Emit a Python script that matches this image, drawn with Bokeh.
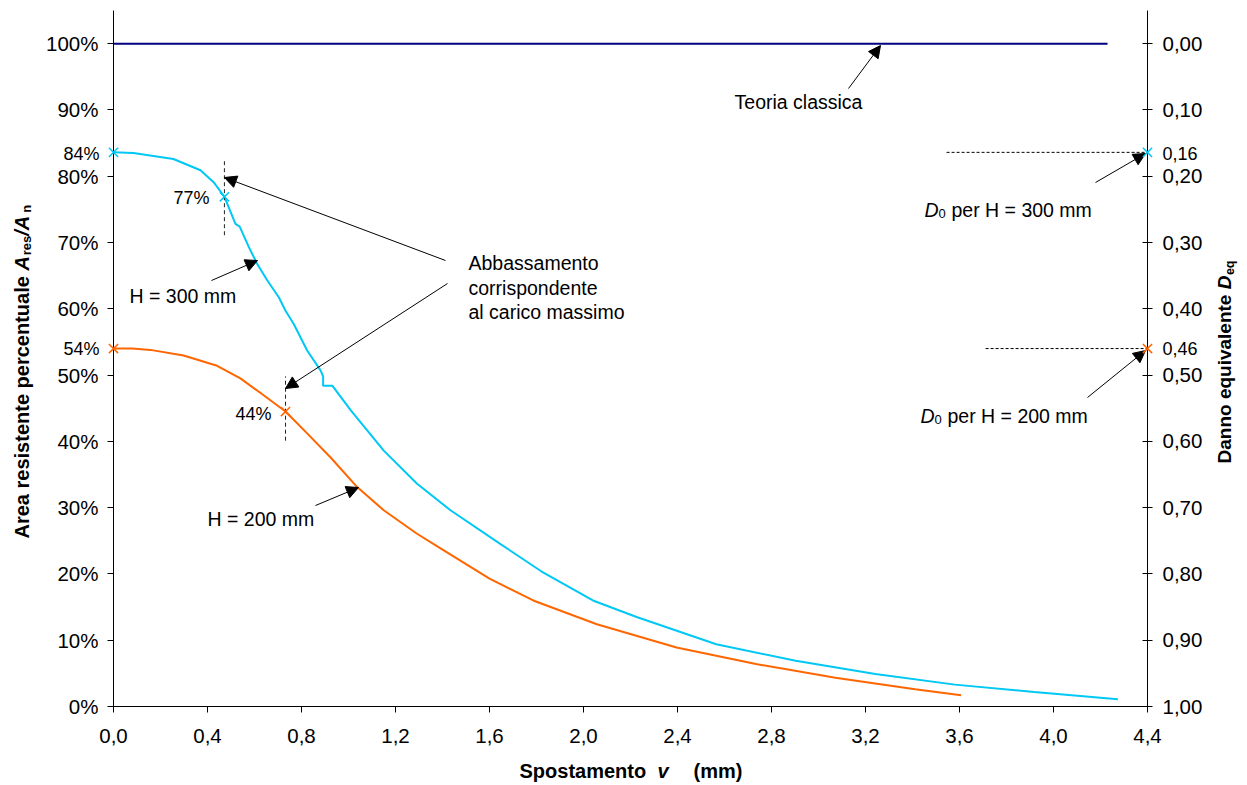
import math
from bokeh.plotting import figure
from bokeh.layouts import column
from bokeh.models import (Range1d, LinearAxis, FixedTicker, CustomJSTickFormatter,
                          Label, Arrow, NormalHead)
from bokeh.embed import file_html
from bokeh.resources import INLINE

# ---------------- data ----------------
# H = 300 mm: spostamento v [mm] / area resistente [%]
v_h300 = [0.0, 0.085, 0.255, 0.37, 0.426, 0.472, 0.519, 0.537, 0.576, 0.611, 0.654, 0.704,
          0.732, 0.767, 0.824, 0.881, 0.892, 0.892, 0.931, 1.009, 1.150, 1.292, 1.434,
          1.647, 1.820, 2.040, 2.226, 2.565, 2.903, 3.242, 3.580, 3.918, 4.274]
a_h300 = [83.6, 83.5, 82.6, 80.9, 79.1, 76.9, 72.8, 72.4, 69.3, 66.8, 64.3, 61.7,
          59.7, 57.7, 53.7, 50.7, 49.8, 48.4, 48.4, 44.7, 38.6, 33.6, 29.6,
          24.5, 20.4, 16.0, 13.5, 9.4, 6.9, 4.9, 3.3, 2.2, 1.1]
# H = 200 mm
v_h200 = [0.0, 0.08, 0.157, 0.298, 0.441, 0.54, 0.626, 0.732, 0.824, 0.923, 1.037, 1.150,
          1.290, 1.390, 1.600, 1.786, 2.057, 2.396, 2.734, 3.072, 3.411, 3.607]
a_h200 = [54.0, 54.0, 53.8, 52.95, 51.4, 49.5, 47.3, 44.5, 41.2, 37.6, 33.1, 29.6,
          26.1, 23.9, 19.3, 16.0, 12.4, 8.9, 6.4, 4.35, 2.6, 1.7]
# teoria classica
v_classic = [0.0, 4.23]
a_classic = [100.0, 100.0]
# abbassamento al carico massimo (H=300, H=200)
v_peak = [0.472, 0.732]
a_peak = [76.9, 44.5]
# danno iniziale D0 (H=300, H=200)
d0 = [0.164, 0.46]
d0_labels = ["0,16", "0,46"]
a0_labels = ["84%", "54%"]
peak_labels = ["77%", "44%"]
dash_start = [3.545, 3.711]

x_ticks = [0.0, 0.4, 0.8, 1.2, 1.6, 2.0, 2.4, 2.8, 3.2, 3.6, 4.0, 4.4]
y_ticks = [0, 10, 20, 30, 40, 50, 60, 70, 80, 90, 100]
d_ticks = [0.0, 0.1, 0.2, 0.3, 0.4, 0.5, 0.6, 0.7, 0.8, 0.9, 1.0]

CYAN = "#00C8F5"
ORANGE = "#FF6600"
NAVY = "#000080"
FONT = "Liberation Sans"
ASIZE = "19.5px"

# ---------------- geometry ----------------
W, H = 1239, 782
ML, MT = 113, 10
FR, FB = 1147, 706
MR, MB = W - FR, H - FB
FW, FH = FR - ML, FB - MT
X0, X1, Y0, Y1 = 0.0, 4.4, 0.0, 105.0

def px2x(px):
    return X0 + (px - ML) / FW * (X1 - X0)

def py2y(py):
    return Y0 + (FB - py) / FH * (Y1 - Y0)

# ---------------- main plot ----------------
p = figure(width=W, height=H, x_range=Range1d(X0, X1), y_range=Range1d(Y0, Y1),
           output_backend="svg", toolbar_location=None, title=None,
           min_border_left=ML, min_border_right=MR, min_border_top=MT, min_border_bottom=MB)
p.outline_line_color = None
p.xgrid.visible = False
p.ygrid.visible = False

def style_axis(ax):
    ax.axis_line_color = "black"
    ax.major_tick_line_color = "black"
    ax.minor_tick_line_color = None
    ax.major_label_text_font = FONT
    ax.major_label_text_font_size = "20.5px"
    ax.major_label_text_color = "black"

xa = p.xaxis[0]
style_axis(xa)
xa.ticker = FixedTicker(ticks=x_ticks)
xa.formatter = CustomJSTickFormatter(code="return tick.toFixed(1).replace('.', ',');")
xa.major_tick_in = 0
xa.major_tick_out = 6
xa.major_label_standoff = 16

ya = p.yaxis[0]
style_axis(ya)
ya.ticker = FixedTicker(ticks=y_ticks)
ya.formatter = CustomJSTickFormatter(code="return Math.round(tick) + '%';")
ya.major_tick_in = 0
ya.major_tick_out = 6
ya.major_label_standoff = 9

p.extra_y_ranges = {"D": Range1d(start=1.0, end=1.0 - Y1 / 100.0)}
ra = LinearAxis(y_range_name="D", ticker=FixedTicker(ticks=d_ticks),
                formatter=CustomJSTickFormatter(code="return tick.toFixed(2).replace('.', ',');"))
style_axis(ra)
ra.major_tick_in = 5
ra.major_tick_out = 5
ra.major_label_standoff = 10
p.add_layout(ra, "right")

p.line(v_classic, a_classic, color=NAVY, line_width=2)
p.line(v_h300, a_h300, color=CYAN, line_width=2)
p.line(v_h200, a_h200, color=ORANGE, line_width=2)

for vp, ap, lo, hi in zip(v_peak, a_peak, [5.8, 4.4], [5.8, 5.3]):
    p.line([vp, vp], [ap - lo, ap + hi], color="#222222", line_width=1, line_dash="4 3")

a0 = [100.0 * (1.0 - d) for d in d0]
for xs, a in zip(dash_start, a0):
    p.line([xs, X1], [a, a], color="black", line_width=1, line_dash="3 2")

p.scatter([v_peak[0]], [a_peak[0]], marker="x", size=13, line_color=CYAN, line_width=1.5)
p.scatter([v_peak[1]], [a_peak[1]], marker="x", size=13, line_color=ORANGE, line_width=1.5)

def lab(fig, text, px, py, size=ASIZE, align="left", style="normal", angle=0.0):
    fig.add_layout(Label(x=px2x(px), y=py2y(py), text=text, text_font=FONT,
                         text_font_size=size, text_font_style=style, text_color="black",
                         text_align=align, text_baseline="middle", angle=angle))

def arrow(x0, y0, x1, y1):
    p.add_layout(Arrow(x_start=px2x(x0), y_start=py2y(y0), x_end=px2x(x1), y_end=py2y(y1),
                       line_color="black", line_width=1,
                       end=NormalHead(size=12, fill_color="black", line_color="black",
                                      line_width=1)))

lab(p, "Teoria classica", 798, 101, align="center")
arrow(848, 88, 880, 45)
lab(p, "D", 924, 209, style="italic")
lab(p, "0", 938, 213, size="13px")
lab(p, "per H = 300 mm", 951, 209)
arrow(1095, 182, 1145, 153)
lab(p, "D", 920, 415, style="italic")
lab(p, "0", 934, 419, size="13px")
lab(p, "per H = 200 mm", 947, 415)
arrow(1087, 397, 1145, 350)
lab(p, "Abbassamento", 468, 262)
lab(p, "corrispondente", 468, 287)
lab(p, "al carico massimo", 468, 311)
arrow(445, 260, 224, 177)
arrow(447, 283, 285, 388)
lab(p, "H = 300 mm", 129, 295)
arrow(211, 280, 257, 260)
lab(p, "H = 200 mm", 207, 518)
arrow(315, 505, 358, 487)
lab(p, peak_labels[0], 209, 197, size="18px", align="right")
lab(p, peak_labels[1], 271, 413, size="18px", align="right")

# ---------------- transparent overlay (frame = whole canvas) for out-of-frame items ----------------
q = figure(frame_width=W, frame_height=H,
           x_range=Range1d(X0 - ML / FW * (X1 - X0), X1 + MR / FW * (X1 - X0)),
           y_range=Range1d(Y0 - MB / FH * (Y1 - Y0), Y1 + MT / FH * (Y1 - Y0)),
           output_backend="svg", toolbar_location=None, title=None,
           x_axis_location=None, y_axis_location=None, min_border=0)
q.outline_line_color = None
q.grid.visible = False
q.background_fill_color = None
q.border_fill_color = None
q.margin = (-H, 0, 0, 0)
for fig in (p, q):
    if "frame_align" in fig.properties():
        fig.frame_align = False

# crosses on the axes (D0 values)
q.scatter([X0, X1], [a0[0], a0[0]], marker="x", size=13, line_color=CYAN, line_width=1.5)
q.scatter([X0, X1], [a0[1], a0[1]], marker="x", size=13, line_color=ORANGE, line_width=1.5)

lab(q, a0_labels[0], 99, 153, size="18px", align="right")
lab(q, a0_labels[1], 99, 348, size="18px", align="right")
lab(q, d0_labels[0], 1162, 153, size="18px")
lab(q, d0_labels[1], 1162, 348, size="18px")

# x axis title
lab(q, "Spostamento", 519, 770, size="20px", style="bold")
lab(q, "v", 657, 770, size="20px", style="bold italic")
lab(q, "(mm)", 693, 770, size="20px", style="bold")

ang = math.pi / 2
# left axis title (reads bottom to top)
ls = 538
lab(q, "Area resistente percentuale", 21, ls, size="20px", style="bold", angle=ang)
lab(q, "A", 21, ls - 267.9, size="20px", style="bold italic", angle=ang)
lab(q, "res", 26, ls - 283.3, size="13px", style="bold", angle=ang)
lab(q, "/A", 21, ls - 302.8, size="20px", style="bold italic", angle=ang)
lab(q, "n", 26, ls - 325.8, size="13px", style="bold", angle=ang)

# right axis title
rs = 463
lab(q, "Danno equivalente", 1224, rs, size="19px", style="bold", angle=ang)
lab(q, "D", 1224, rs - 174.2, size="19px", style="bold italic", angle=ang)
lab(q, "eq", 1229, rs - 188.4, size="12.5px", style="bold", angle=ang)

layout = column(p, q)
open("out.html", "w").write(file_html(layout, INLINE))
